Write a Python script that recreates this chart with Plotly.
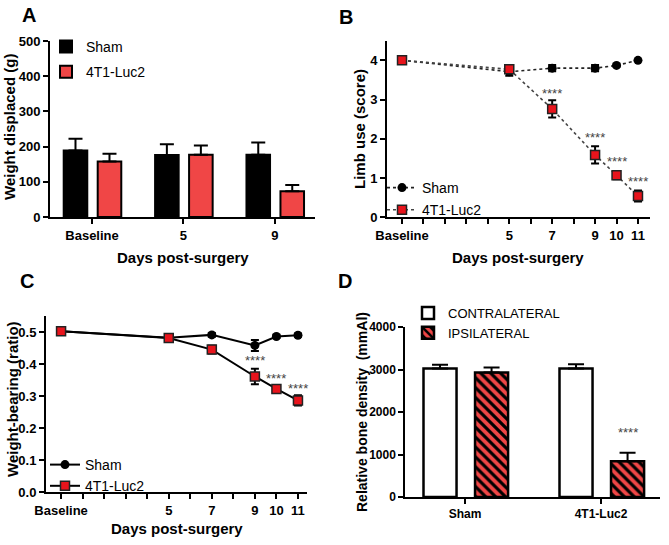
import plotly.graph_objects as go

# panel A - weight displaced (bars, mean + SEM)
days_a = ["Baseline", "5", "9"]
sham_a = [189, 176, 177]
sham_a_err = [33, 31, 35]
luc_a = [158, 177, 73]
luc_a_err = [22, 26, 18]

# panels B / C - time course, Baseline plotted at day 0
days_bc = [0, 5, 7, 9, 10, 11]
tick_days = list(range(12))
tick_labels = ["Baseline", "", "", "", "", "5", "", "7", "", "9", "10", "11"]

sham_b = [4.0, 3.71, 3.80, 3.80, 3.87, 4.0]
sham_b_err = [0, 0.10, 0.08, 0.08, 0.03, 0]
luc_b = [4.0, 3.77, 2.76, 1.59, 1.07, 0.54]
luc_b_err = [0, 0.08, 0.22, 0.22, 0.10, 0.14]
stars_b_x = [7, 9, 10, 11]
stars_b_y = [3.16, 2.04, 1.43, 0.91]

sham_c = [0.502, 0.482, 0.491, 0.458, 0.486, 0.490]
sham_c_err = [0.004, 0.006, 0.006, 0.017, 0.005, 0.005]
luc_c = [0.502, 0.481, 0.445, 0.361, 0.322, 0.286]
luc_c_err = [0.004, 0.008, 0.012, 0.024, 0.010, 0.016]
stars_c_x = [9, 10, 11]
stars_c_y = [0.41, 0.355, 0.324]

# panel D - bone density
groups_d = ["Sham", "4T1-Luc2"]
contra_d = [3024, 3024]
contra_d_err = [86, 102]
ipsi_d = [2929, 843]
ipsi_d_err = [118, 196]

W, H = 669, 545
RED = "#F04646"
MRED = "#E8141C"
FONT = "Liberation Sans"


def px(x):
    return x / W


def py(y):
    return 1 - y / H


fig = go.Figure()

# ---- A
fig.add_trace(go.Bar(x=days_a, y=sham_a, name="Sham", marker=dict(color="black", line=dict(color="black", width=2)),
                     width=0.258, offset=-0.31,
                     error_y=dict(type="data", array=sham_a_err, arrayminus=[0] * 3, symmetric=False,
                                  color="black", thickness=2, width=7),
                     xaxis="x", yaxis="y", legend="legend", legendgroup="a1"))
fig.add_trace(go.Bar(x=days_a, y=luc_a, name="4T1-Luc2", marker=dict(color=RED, line=dict(color="black", width=2)),
                     width=0.258, offset=0.062,
                     error_y=dict(type="data", array=luc_a_err, arrayminus=[0] * 3, symmetric=False,
                                  color="black", thickness=2, width=7),
                     xaxis="x", yaxis="y", legend="legend", legendgroup="a2"))

# ---- B
fig.add_trace(go.Scatter(x=days_bc, y=sham_b, name="Sham", mode="lines+markers",
                         line=dict(color="#222222", width=1.6, dash="dot"),
                         marker=dict(symbol="circle", size=9, color="black"),
                         error_y=dict(type="data", array=sham_b_err, color="black", thickness=2, width=4),
                         xaxis="x2", yaxis="y2", legend="legend2", legendgroup="b1"))
fig.add_trace(go.Scatter(x=days_bc, y=luc_b, name="4T1-Luc2", mode="lines+markers",
                         line=dict(color="#444444", width=1.6, dash="dot"),
                         marker=dict(symbol="square", size=9, color=MRED, line=dict(color="#222222", width=1.5)),
                         error_y=dict(type="data", array=luc_b_err, color="black", thickness=2, width=4),
                         xaxis="x2", yaxis="y2", legend="legend2", legendgroup="b2"))

# ---- C
fig.add_trace(go.Scatter(x=days_bc, y=sham_c, name="Sham", mode="lines+markers",
                         line=dict(color="black", width=2),
                         marker=dict(symbol="circle", size=9, color="black"),
                         error_y=dict(type="data", array=sham_c_err, color="black", thickness=2, width=4),
                         xaxis="x3", yaxis="y3", legend="legend3", legendgroup="c1"))
fig.add_trace(go.Scatter(x=days_bc, y=luc_c, name="4T1-Luc2", mode="lines+markers",
                         line=dict(color="black", width=2),
                         marker=dict(symbol="square", size=9, color=MRED, line=dict(color="#222222", width=1.5)),
                         error_y=dict(type="data", array=luc_c_err, color="black", thickness=2, width=4),
                         xaxis="x3", yaxis="y3", legend="legend3", legendgroup="c2"))

# ---- D
fig.add_trace(go.Bar(x=groups_d, y=contra_d, name="CONTRALATERAL",
                     marker=dict(color="white", line=dict(color="black", width=2.5)),
                     width=0.243, offset=-0.305,
                     error_y=dict(type="data", array=contra_d_err, arrayminus=[0, 0], symmetric=False,
                                  color="black", thickness=2, width=8),
                     xaxis="x4", yaxis="y4", legend="legend4", legendgroup="d1"))
fig.add_trace(go.Bar(x=groups_d, y=ipsi_d, name="IPSILATERAL",
                     marker=dict(color=RED, line=dict(color="black", width=2.5),
                                 pattern=dict(shape="\\", fgcolor="black", bgcolor=RED, size=7, solidity=0.45)),
                     width=0.243, offset=0.074,
                     error_y=dict(type="data", array=ipsi_d_err, arrayminus=[0, 0], symmetric=False,
                                  color="black", thickness=2, width=8),
                     xaxis="x4", yaxis="y4", legend="legend4", legendgroup="d2"))

bold_tick = dict(family=FONT, size=13, color="black", weight="bold")
ax = dict(showline=True, linecolor="black", linewidth=2, ticks="outside", ticklen=5, tickwidth=2,
          tickcolor="black", showgrid=False, zeroline=False, tickfont=bold_tick, automargin=False)

fig.update_layout(
    template="none",
    width=W, height=H, margin=dict(l=0, r=0, t=0, b=0, autoexpand=False),
    paper_bgcolor="white", plot_bgcolor="white",
    barmode="overlay", showlegend=True,
    xaxis=dict(ax, domain=[px(50), px(315)], type="category", range=[-0.46, 2.44], anchor="y"),
    yaxis=dict(ax, domain=[py(217), py(41)], range=[0, 500], dtick=100, anchor="x"),
    xaxis2=dict(ax, domain=[px(387), px(650)], range=[-0.7, 11.56], tickvals=tick_days,
                ticktext=tick_labels, anchor="y2"),
    yaxis2=dict(ax, domain=[py(217.3), py(40.7)], range=[0, 4.5], tickvals=[0, 1, 2, 3, 4], anchor="x2"),
    xaxis3=dict(ax, domain=[px(46), px(307)], range=[-0.7, 11.42], tickvals=tick_days,
                ticktext=tick_labels, anchor="y3"),
    yaxis3=dict(ax, domain=[py(492), py(316)], range=[0, 0.55], tickvals=[0, 0.1, 0.2, 0.3, 0.4, 0.5],
                tickformat=".1f", anchor="x3"),
    xaxis4=dict(ax, domain=[px(405), px(660)], type="category", range=[-0.441, 1.434], anchor="y4",
                linewidth=1.5, tickwidth=1.5, tickfont=dict(family=FONT, size=12, color="black", weight="bold")),
    yaxis4=dict(ax, domain=[py(497), py(327)], range=[0, 4000], dtick=1000, anchor="x4",
                linewidth=1.5, tickwidth=1.5, tickfont=dict(family=FONT, size=12, color="black", weight="bold")),
)

leg = dict(xanchor="left", yanchor="top", bgcolor="rgba(0,0,0,0)", tracegroupgap=4,
           font=dict(family=FONT, size=14, color="black"))
fig.update_layout(
    legend=dict(leg, x=px(46), y=py(31)),
    legend2=dict(leg, x=px(382), y=py(172), tracegroupgap=1),
    legend3=dict(leg, x=px(45), y=py(449), tracegroupgap=0),
    legend4=dict(leg, x=px(408), y=py(298), tracegroupgap=0, font=dict(family=FONT, size=13, color="black")),
)

notes = [
    ("A", 29, 15), ("B", 346, 17), ("C", 27, 281), ("D", 345, 281),
]
for letter, x, y in notes:
    fig.add_annotation(text=letter, x=px(x), y=py(y), xref="paper", yref="paper", showarrow=False,
                       xanchor="center", yanchor="middle",
                       font=dict(family=FONT, size=20, color="black", weight="bold"))

axis_titles = [
    ("Weight displaced (g)", 9, 127, -90, 15),
    ("Days post-surgery", 183, 257, 0, 15),
    ("Limb use (score)", 360, 129, -90, 15),
    ("Days post-surgery", 518, 257, 0, 15),
    ("Weight-bearing (ratio)", 12, 399, -90, 15),
    ("Days post-surgery", 177, 528, 0, 15),
    ("Relative bone density  (mmAl)", 362, 412, -90, 14),
]
for text, x, y, ang, size in axis_titles:
    fig.add_annotation(text=text, x=px(x), y=py(y), xref="paper", yref="paper", showarrow=False,
                       xanchor="center", yanchor="middle", textangle=ang,
                       font=dict(family=FONT, size=size, color="black", weight="bold"))

# significance stars
fig.add_annotation(text="*", x="9", y=119, xref="x", yref="y", xshift=17, showarrow=False,
                   font=dict(family=FONT, size=16, color="black"))
for x, y in zip(stars_b_x, stars_b_y):
    fig.add_annotation(text="****", x=x, y=y, xref="x2", yref="y2", showarrow=False,
                       font=dict(family=FONT, size=13, color="#444444"))
for x, y in zip(stars_c_x, stars_c_y):
    fig.add_annotation(text="****", x=x, y=y, xref="x3", yref="y3", showarrow=False,
                       font=dict(family=FONT, size=13, color="#444444"))
fig.add_annotation(text="****", x="4T1-Luc2", y=1520, xref="x4", yref="y4", xshift=27, showarrow=False,
                   font=dict(family=FONT, size=13, color="#444444"))

# drop the browser's default body margin so the figure sits at the page corner
fig.write_html("out.html", config={"displayModeBar": False},
               post_script="document.body.style.margin = '0';")
